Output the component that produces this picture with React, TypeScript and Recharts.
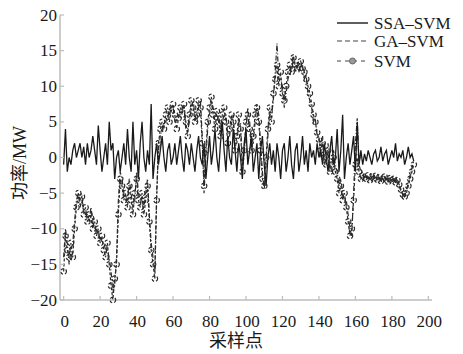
import React from 'react';
import { LineChart, Line, XAxis, YAxis } from 'recharts';

const ssaSvm: number[] = [
  -1, 4, -2, 0, -1, 1, 2, 0, 1, 2,
  0, 1.5, -1, 2, 0, 1, 3, 1, -1, 4.5,
  1, -2, 0, 2, -1, 5, 1, 2, -3, 0,
  1, -2, 0, 2, -1, 4, 0, -2, 5, -1,
  1, -3, 2, 5, 0, -2, 1, -1, 7.5, -3,
  0, 2, -1, 1, 3, 0, -2, 1, 2, -1,
  0, 2, -1, 1, 3, 0, -2, 2, 1, -1,
  2, 0, -2, 1, 3, 0, -1, 2, -3, 0,
  3, -1, 1, 4, 0, -2, 2, 5, 1, -2,
  3, 0, -1, 4, 1, -2, 2, 0, -3, 2,
  4, -1, 1, 3, -2, 0, 2, -3, 1, 3,
  -1, -4, 0, 2, -1, 1, -2, 2, 0, -3,
  1, 2, -2, 0, 3, -1, -3, 1, 2, -2,
  0, 3, -1, 1, -2, 2, 0, 1, -1, 2,
  0, 1, -1, 2, 0, -2, 1, 3, -1, 0,
  4, -2, 1, 6, -3, 0, 2, -1, 1, 3,
  -2, 5, -1, 1, -1, 0.5, -0.5, 1, 0, -1,
  0.5, 1, -0.5, 0, 1.5, -0.5, 0.5, 1, -1, 0,
  1, 0, 2, -0.5, 0.5, 0, 1, -1, 0, 1.5,
  0, 0.5, -0.5,
];

const gaSvm: number[] = [
  -14, -10, -12, -15, -13, -12, -9, -6, -5, -7,
  -6, -7, -8, -8, -9, -7, -9, -10, -10, -11,
  -11, -12, -12, -13, -13, -14, -16, -19, -18, -14,
  -6, -2, -3, -5, -6, -6, -3, -5, -7, -6,
  -2, -5, -6, -6, -7, -5, -3, -8, -12, -14,
  -16, -5, 1, 3, 4, 5, 5, 6, 6, 7,
  7, 5, 5, 6, 6, 7, 7, 4, 4, 5,
  7, 8, 6, 5, 7, 8, 3, -5, 0, 4,
  6, 8, 7, 5, 5, 6, 4, 5, 6, 6,
  3, 3, 5, 6, 2, 2, 5, 5, -1, 0,
  4, 7, 5, 2, 2, 5, 7.5, 6, 2, -2,
  -4.5, -1, 3, 6, 6, 8, 12, 16, 11, 11,
  10, 7, 9, 11, 12, 13, 14.5, 12, 13, 12,
  13, 13, 11, 11.5, 9, 8, 7, 5, 5.5, 3,
  3, 0, 3, -1, 0, 2, -1, -2, 1, -1,
  -2, -4, -3, -5, -6, -6, -8, -10, -11, -5,
  2, 5.5, -1, -2, -2, -3, -2.5, -3, -2.8, -3,
  -2.5, -3, -2.7, -3, -3, -2.6, -3, -3, -3, -3.2,
  -3, -3.3, -3.2, -3.6, -4, -4.8, -5.5, -5, -4.6, -3.5,
  -2.5, -1.5, -0.5,
];

const svm: number[] = [
  -16, -11, -13, -14, -12, -14, -10, -7, -5, -6,
  -5.5, -8, -7, -9, -8, -8.5, -10, -9, -11, -10,
  -12, -11, -13, -14, -12, -15, -18, -20, -17, -15,
  -8, -3, -4, -6, -5, -7, -4, -6, -8, -5,
  -3, -6, -7, -5, -8, -6, -4, -9, -13, -15,
  -17, -6, 2, 4, 5, 4, 6, 7, 5, 6.5,
  7.5, 6, 4, 5.5, 7, 6, 7.5, 5, 3, 6,
  8, 7, 5, 6, 8, 7, 2, -4, 1, 5,
  7, 8.5, 6, 4, 6.5, 5, 3, 6, 7, 5,
  2, 4, 6, 5, 1, 3, 6, 4, -2, 1,
  5, 6, 4, 1, 3, 6, 7, 5, 1, -3,
  -4, 0, 4, 7, 5, 9, 11, 13, 10, 12,
  9, 8, 10, 12, 13, 12, 14, 13, 12.5, 13,
  13.5, 12.5, 12, 11, 10, 9, 7.5, 6, 5, 3.5,
  2.5, 1, 2, 0, -1, 1, -2, -1, 0, -2,
  -3, -5, -4, -6, -5, -7, -9, -11, -10, -6,
  -1, 0, -2, -3, -2.5, -2.8, -3, -2.5, -3.2, -2.7,
  -3, -2.6, -3.1, -2.8, -3.3, -3, -2.7, -3.1, -3.4, -2.9,
  -3.2, -3, -3.5, -3.2, -3.8, -4.5, -5.2, -5.5, -5, -4,
  -3, -2, -1,
];

const xTicks = [0, 20, 40, 60, 80, 100, 120, 140, 160, 180, 200];
const yTicks = [-20, -15, -10, -5, 0, 5, 10, 15, 20];
const seriesNames = ['SSA\u2013SVM', 'GA\u2013SVM', 'SVM'];
const xLabel = '采样点';
const yLabel = '功率/MW';

const data = ssaSvm.map((v, i) => ({ x: i, ssa: v, ga: gaSvm[i], svm: svm[i] }));

const FONT = "'Liberation Serif', 'Noto Sans CJK SC', serif";
const AXIS = '#bdbdbd';
const INK = '#1a1a1a';

const fmt = (v: number) => (v < 0 ? '\u2212' + Math.abs(v) : String(v));

const XTick = (props: any) => {
  const { x, payload } = props;
  return (
    <g>
      <line x1={x} x2={x} y1={300} y2={296} stroke={AXIS} strokeWidth={1.2} />
      <text x={x + 1} y={327} textAnchor="middle" style={{ fontFamily: FONT }} fontSize={17} fill={INK}>
        {fmt(payload.value)}
      </text>
    </g>
  );
};

const YTick = (props: any) => {
  const { y, payload } = props;
  return (
    <g>
      <line x1={60} x2={64} y1={y} y2={y} stroke={AXIS} strokeWidth={1.2} />
      <text x={57} y={y + 5.5} textAnchor="end" style={{ fontFamily: FONT }} fontSize={17} fill={INK}>
        {fmt(payload.value)}
      </text>
    </g>
  );
};

const XLabel = () => (
  <text x={236} y={341} textAnchor="middle" dominantBaseline="central" style={{ fontFamily: FONT }} fontSize={18} fill={INK}>
    {xLabel}
  </text>
);

const YLabel = () => (
  <text
    x={20}
    y={163}
    textAnchor="middle"
    dominantBaseline="central"
    transform="rotate(-90 20 163)"
    style={{ fontFamily: FONT }}
    fontSize={18}
    fill={INK}
  >
    {yLabel}
  </text>
);

const LegendBox = () => {
  const rows = [23, 41, 61];
  return (
    <svg width={130} height={75} style={{ position: 'absolute', left: 330, top: 0 }}>
      <line x1={7} x2={38} y1={rows[0]} y2={rows[0]} stroke={INK} strokeWidth={1.4} />
      <line x1={7} x2={38} y1={rows[1]} y2={rows[1]} stroke="#444" strokeWidth={1.1} strokeDasharray="5 3" />
      <line x1={7} x2={38} y1={rows[2]} y2={rows[2]} stroke="#444" strokeWidth={1.1} strokeDasharray="4 4" />
      <circle cx={22.5} cy={rows[2]} r={3} fill="#999" stroke="#666" strokeWidth={1} />
      {seriesNames.map((n, i) => (
        <text key={n} x={44} y={rows[i] + 5.5} style={{ fontFamily: FONT }} fontSize={17} fill={INK}>
          {n}
        </text>
      ))}
    </svg>
  );
};

export default function App() {
  return (
    <div style={{ position: 'absolute', left: 0, top: 0, width: 463, height: 354, background: '#fff' }}>
      <LineChart width={463} height={354} data={data} margin={{ top: 15, right: 31, bottom: 24, left: 0 }}>
        <XAxis
          dataKey="x"
          type="number"
          domain={[-2, 202]}
          ticks={xTicks}
          interval={0}
          height={30}
          axisLine={{ stroke: AXIS, strokeWidth: 1.5 }}
          tickLine={false}
          tick={XTick}
          label={XLabel}
        />
        <YAxis
          type="number"
          domain={[-20, 20]}
          ticks={yTicks}
          interval={0}
          width={60}
          axisLine={{ stroke: AXIS, strokeWidth: 1.5 }}
          tickLine={false}
          tick={YTick}
          label={YLabel}
        />
        <Line
          dataKey="svm"
          type="linear"
          stroke="#2a2a2a"
          strokeWidth={1.2}
          strokeDasharray="3 2"
          dot={{ r: 2.8, stroke: '#2a2a2a', strokeWidth: 1.2, fill: 'none' }}
          isAnimationActive={false}
        />
        <Line
          dataKey="ga"
          type="linear"
          stroke="#2a2a2a"
          strokeWidth={1.2}
          strokeDasharray="5 2 1 2"
          dot={false}
          isAnimationActive={false}
        />
        <Line
          dataKey="ssa"
          type="linear"
          stroke={INK}
          strokeWidth={1.3}
          dot={false}
          isAnimationActive={false}
        />
      </LineChart>
      <LegendBox />
    </div>
  );
}
